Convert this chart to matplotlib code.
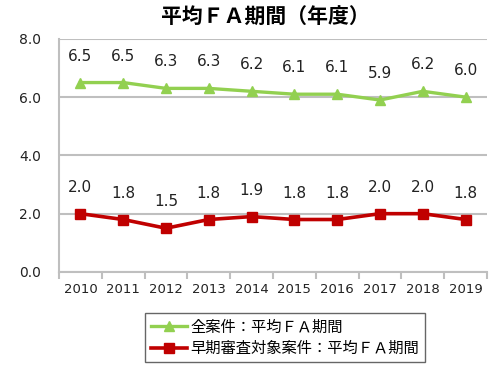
import matplotlib
matplotlib.use("Agg")
import matplotlib.pyplot as plt

plt.rcParams['font.family'] = ['DejaVu Sans', 'Noto Sans CJK JP']

years = ["2010", "2011", "2012", "2013", "2014", "2015", "2016", "2017", "2018", "2019"]
all_cases = [6.5, 6.5, 6.3, 6.3, 6.2, 6.1, 6.1, 5.9, 6.2, 6.0]
accelerated = [2.0, 1.8, 1.5, 1.8, 1.9, 1.8, 1.8, 2.0, 2.0, 1.8]
y_ticks = [0, 2, 4, 6, 8]

GREEN = "#92D050"
RED = "#C00000"
GRID = "#BFBFBF"
CJK = ['Noto Sans CJK JP', 'DejaVu Sans']

fig = plt.figure(figsize=(5, 3.7), dpi=100)
ax = fig.add_axes([0.118, 0.265, 0.856, 0.63])

x = list(range(len(years)))
ax.plot(x, all_cases, color=GREEN, linewidth=2.4, marker="^", markersize=7,
        label="全案件：平均ＦＡ期間", zorder=3)
ax.plot(x, accelerated, color=RED, linewidth=2.6, marker="s", markersize=7,
        label="早期審査対象案件：平均ＦＡ期間", zorder=3)

for xi, v in zip(x, all_cases):
    ax.annotate(f"{v:.1f}", (xi, v), xytext=(0, 19), textcoords="offset points",
                ha="center", va="center", fontsize=11, color="#222222")
for xi, v in zip(x, accelerated):
    ax.annotate(f"{v:.1f}", (xi, v), xytext=(0, 19), textcoords="offset points",
                ha="center", va="center", fontsize=11, color="#222222")

ax.set_xlim(-0.5, len(years) - 0.5)
ax.set_ylim(0, 8)
ax.set_yticks(y_ticks)
ax.set_yticklabels([f"{t:.1f}" for t in y_ticks])
ax.set_xticks(x)
ax.set_xticklabels(years)
ax.set_xticks([i - 0.5 for i in range(len(years) + 1)], minor=True)
ax.tick_params(axis="x", which="major", length=0, pad=8, labelsize=9.5, colors="#222222")
ax.tick_params(axis="x", which="minor", length=5, color=GRID, width=1.5)
ax.tick_params(axis="y", length=0, pad=13, labelsize=10, colors="#222222")
ax.yaxis.grid(True, color=GRID, linewidth=1.5)
ax.set_axisbelow(True)
for side in ["top", "right"]:
    ax.spines[side].set_visible(False)
for side in ["left", "bottom"]:
    ax.spines[side].set_color(GRID)
    ax.spines[side].set_linewidth(1.5)

fig.text(0.53, 0.952, "平均ＦＡ期間（年度）", ha="center", va="center",
         fontsize=15, fontweight="bold", family=CJK)

leg = fig.legend(loc="center", bbox_to_anchor=(0.57, 0.087), frameon=True,
                 fancybox=False, edgecolor="#404040", prop={"family": CJK, "size": 11},
                 handlelength=2.4, borderpad=0.35, labelspacing=0.3, handletextpad=0.2)
leg.get_frame().set_linewidth(1.0)

fig.savefig("out.png", dpi=100)
